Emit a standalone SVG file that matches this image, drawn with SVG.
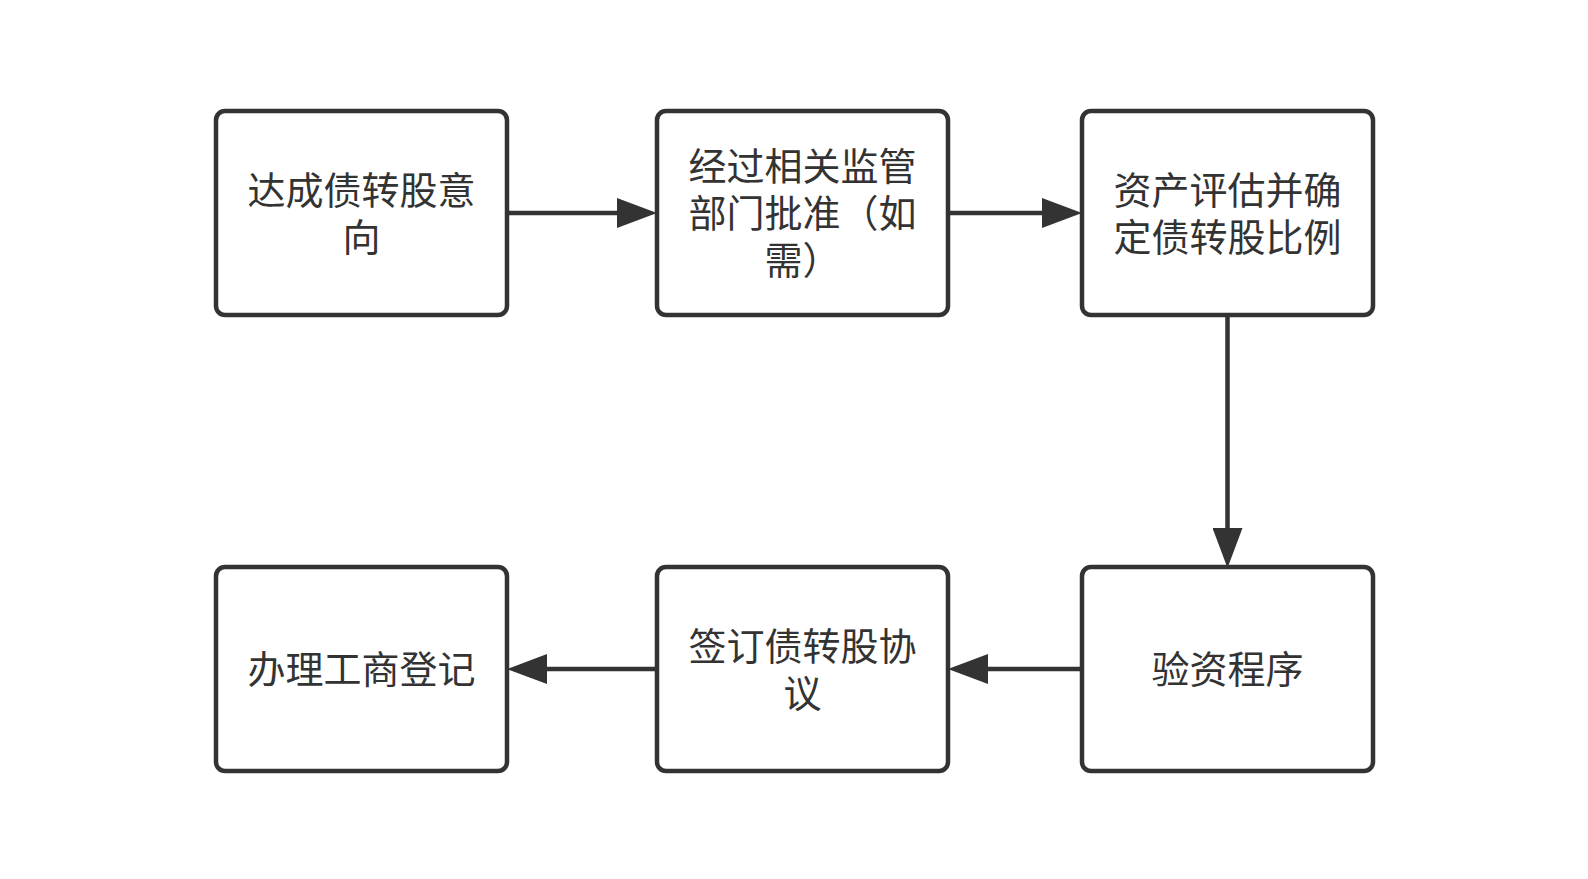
<svg xmlns="http://www.w3.org/2000/svg" width="1588" height="879" viewBox="0 0 1588 879">
<defs>
<style>
.box{fill:#ffffff;stroke:#333333;stroke-width:4.5}
.lbl{font-family:"Noto Sans CJK SC","Noto Sans",sans-serif;font-size:38px;fill:#333333;text-anchor:middle}
.edge{fill:none;stroke:#333333;stroke-width:4.5}
</style>
<marker id="arr" markerUnits="userSpaceOnUse" markerWidth="40" markerHeight="30" refX="2" refY="15" orient="auto">
<path d="M0,0 L40,15 L0,30 z" fill="#333333"/>
</marker>
</defs>
<rect width="1588" height="879" fill="#ffffff"/>
<g id="n1"><rect class="box" x="216" y="111" width="291" height="204" rx="9"/>
<text class="lbl" x="361.5" y="204">达成债转股意</text><text class="lbl" x="361.5" y="251">向</text></g>
<g id="n2"><rect class="box" x="657" y="111" width="291" height="204" rx="9"/>
<text class="lbl" x="802.5" y="180">经过相关监管</text><text class="lbl" x="802.5" y="227">部门批准（如</text><text class="lbl" x="802.5" y="274">需）</text></g>
<g id="n3"><rect class="box" x="1082" y="111" width="291" height="204" rx="9"/>
<text class="lbl" x="1227.5" y="204">资产评估并确</text><text class="lbl" x="1227.5" y="251">定债转股比例</text></g>
<g id="n4"><rect class="box" x="216" y="567" width="291" height="204" rx="9"/>
<text class="lbl" x="361.5" y="683">办理工商登记</text></g>
<g id="n5"><rect class="box" x="657" y="567" width="291" height="204" rx="9"/>
<text class="lbl" x="802.5" y="660">签订债转股协</text><text class="lbl" x="802.5" y="707">议</text></g>
<g id="n6"><rect class="box" x="1082" y="567" width="291" height="204" rx="9"/>
<text class="lbl" x="1227.5" y="683">验资程序</text></g>
<g id="edges">
<path class="edge" d="M507,213 L619,213" marker-end="url(#arr)"/>
<path class="edge" d="M948,213 L1044,213" marker-end="url(#arr)"/>
<path class="edge" d="M1227.5,315 L1227.5,530" marker-end="url(#arr)"/>
<path class="edge" d="M1082,669 L986,669" marker-end="url(#arr)"/>
<path class="edge" d="M657,669 L545,669" marker-end="url(#arr)"/>
</g>
</svg>
